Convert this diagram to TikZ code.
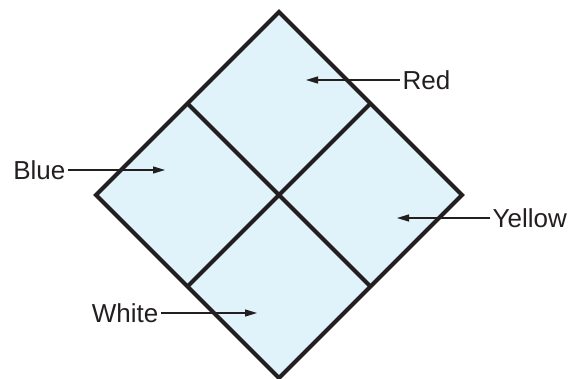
\documentclass[tikz,border=0pt]{standalone}
\usepackage{fontspec}
\setmainfont{Liberation Sans}
\usepackage{xcolor}
\usepackage{tikz}
\usetikzlibrary{arrows.meta,positioning,calc}
\definecolor{CellFill}{HTML}{E0F2FA}
\definecolor{Outline}{HTML}{231F20}

\begin{document}
\begin{tikzpicture}[x=1pt, y=-1pt,
  grid/.style={draw=Outline, line width=4pt, line join=miter},
  lbl/.style={font=\fontsize{26}{30}\selectfont, text=Outline, inner sep=2.5pt},
  pointer/.style={-{Triangle[length=12pt,width=7pt]}, line width=1.2pt, draw=Outline}
]
  \useasboundingbox (0,0) rectangle (571,379);

  % outer diamond and its corners
  \coordinate (top)    at (279,12);
  \coordinate (left)   at (96,195);
  \coordinate (bottom) at (279,378);
  \coordinate (right)  at (462,195);
  \fill[CellFill] (top) -- (right) -- (bottom) -- (left) -- cycle;

  % inner dividers
  \draw[grid] ($(top)!0.5!(left)$) -- ($(right)!0.5!(bottom)$);
  \draw[grid] ($(top)!0.5!(right)$) -- ($(left)!0.5!(bottom)$);
  \draw[grid] (top) -- (right) -- (bottom) -- (left) -- cycle;

  % labels
  \node[lbl, anchor=west] (red)    at (400,80)  {Red};
  \node[lbl, anchor=east] (blue)   at (68,170)  {Blue};
  \node[lbl, anchor=west] (yellow) at (490,218) {Yellow};
  \node[lbl, anchor=east] (white)  at (161,313) {White};

  \coordinate (redtip)    at (306,80);
  \coordinate (bluetip)   at (165,170);
  \coordinate (yellowtip) at (397,218);
  \coordinate (whitetip)  at (257,313);

  \draw[pointer] (red.west)    -- (redtip);
  \draw[pointer] (blue.east)   -- (bluetip);
  \draw[pointer] (yellow.west) -- (yellowtip);
  \draw[pointer] (white.east)  -- (whitetip);
\end{tikzpicture}
\end{document}
